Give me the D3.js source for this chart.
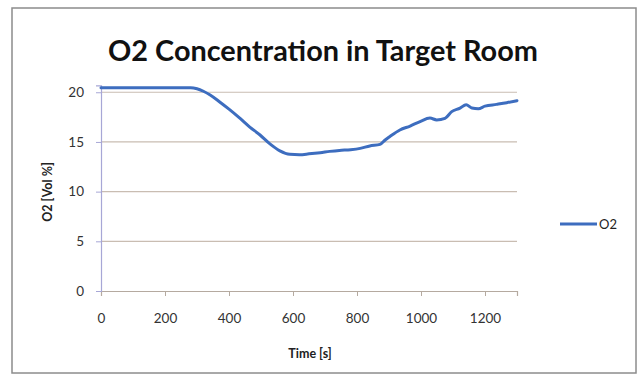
<!DOCTYPE html>
<html><head><meta charset="utf-8">
<script src="https://cdn.jsdelivr.net/npm/d3@7"></script>
<style>
body{margin:0;background:#fff;}
svg{display:block;}
text{font-family:Lato,"Open Sans",sans-serif;}
</style></head>
<body><svg id="c" width="639" height="381"></svg>
<script>
const times = [0,50,100,150,200,250,280,300,320,340,370,400,430,465,497,528,559,590,620,650,685,715,745,780,810,840,872,888,903,934,966,997,1028,1049,1075,1096,1122,1141,1159,1179,1200,1236,1268,1300];
const o2 = [20.45,20.45,20.45,20.45,20.45,20.45,20.45,20.35,20.1,19.75,19.05,18.3,17.5,16.5,15.7,14.8,14.1,13.75,13.72,13.8,13.92,14.05,14.15,14.22,14.35,14.6,14.75,15.2,15.55,16.2,16.6,17.05,17.4,17.22,17.38,18.05,18.4,18.75,18.42,18.35,18.6,18.78,18.95,19.15];
const xTicks = [0,200,400,600,800,1000,1200];
const yTicks = [0,5,10,15,20];
const title = "O2 Concentration in Target Room";
const xLabel = "Time [s]";
const yLabel = "O2 [Vol %]";
const seriesName = "O2";

const svg = d3.select("#c");
svg.append("rect").attr("x",12).attr("y",8).attr("width",624).attr("height",365)
  .attr("fill","#fff").attr("stroke","#8c8c8c").attr("stroke-width",1.5);

const x = d3.scaleLinear().domain([0,1300]).range([101,517]);
const y = d3.scaleLinear().domain([0,20.7]).range([291,85.3]);

// gridlines
svg.append("g").selectAll("line").data(yTicks.filter(d=>d>0)).join("line")
  .attr("x1",101).attr("x2",517).attr("y1",d=>y(d)).attr("y2",d=>y(d))
  .attr("stroke","#c9bdb2").attr("stroke-width",1.2);

// x axis
const gx = svg.append("g").attr("transform",`translate(0,${y(0)})`)
  .call(d3.axisBottom(x).tickValues(xTicks).tickSize(5).tickPadding(17).tickFormat(d3.format("d")));
gx.select(".domain").attr("stroke","#b5aaa0").attr("stroke-width",1.2);
gx.selectAll(".tick line").attr("stroke","#b5aaa0");
gx.selectAll(".tick text").attr("font-size",13.5).attr("fill","#333").attr("font-family","Lato,sans-serif");

// y axis
const gy = svg.append("g").attr("transform",`translate(${x(0)},0)`)
  .call(d3.axisLeft(y).tickValues(yTicks).tickSize(5).tickPadding(12));
gy.select(".domain").attr("stroke","#a7a7d6").attr("stroke-width",1.2);
gy.selectAll(".tick line").attr("stroke","#a7a7d6");
gy.selectAll(".tick text").attr("font-size",13.5).attr("fill","#333").attr("font-family","Lato,sans-serif");

// line
const pts = times.map((t,i)=>[t,o2[i]]);
svg.append("path").datum(pts)
  .attr("fill","none").attr("stroke","#3d6dbf").attr("stroke-width",3).attr("stroke-linejoin","round").attr("stroke-linecap","round")
  .attr("d", d3.line().x(d=>x(d[0])).y(d=>y(d[1])).curve(d3.curveMonotoneX));

// title
const tt = svg.append("text").attr("x",323).attr("y",61).attr("text-anchor","middle")
  .attr("font-size",24).attr("font-weight","bold").attr("fill","#111").text(title);
const w = tt.node().getComputedTextLength();
tt.attr("font-size", 24*430/w);

// axis labels
svg.append("text").attr("x",310).attr("y",358).attr("text-anchor","middle")
  .attr("font-size",12.5).attr("font-weight","bold").attr("fill","#222").text(xLabel);
svg.append("text").attr("transform","translate(52,192) rotate(-90)").attr("text-anchor","middle")
  .attr("font-size",12.5).attr("font-weight","bold").attr("fill","#222").text(yLabel);

// legend
svg.append("line").attr("x1",560).attr("x2",597).attr("y1",224).attr("y2",224)
  .attr("stroke","#3d6dbf").attr("stroke-width",3);
svg.append("text").attr("x",599).attr("y",229).attr("font-size",13).attr("fill","#222").text(seriesName);
</script></body></html>
